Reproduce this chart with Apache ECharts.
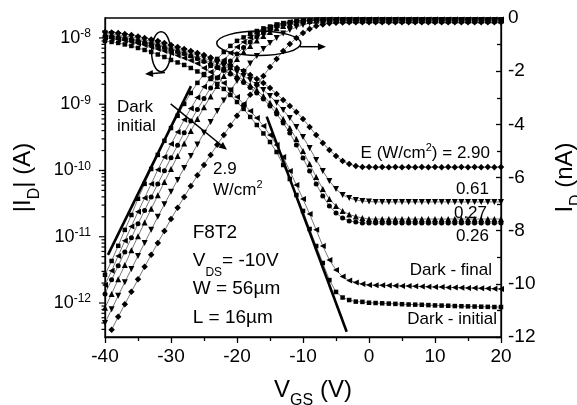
<!DOCTYPE html>
<html><head><meta charset="utf-8">
<script src="https://cdn.jsdelivr.net/npm/echarts@6/dist/echarts.min.js"></script>
<style>html,body{margin:0;padding:0;background:#fff}#c{width:577px;height:405px}</style>
</head><body><div id="c"></div>
<script>
// ---------- data ----------
const vgs = [-40,-39,-38,-37,-36,-35,-34,-33,-32,-31,-30,-29,-28,-27,-26,-25,-24,-23,-22,-21,
  -20,-19,-18,-17,-16,-15,-14,-13,-12,-11,-10,-9,-8,-7,-6,-5,-4,-3,-2,-1,
  0,1,2,3,4,5,6,7,8,9,10,11,12,13,14,15,16,17,18,19,20];

// linear I_D (nA), right axis
const linDarkInitial = [-9.66,-9.14,-8.57,-7.97,-7.41,-6.80,-6.24,-5.68,-5.15,-4.62,
  -4.14,-3.68,-3.23,-2.82,-2.44,-2.11,-1.80,-1.54,-1.28,-1.05,
  -0.86,-0.73,-0.60,-0.49,-0.39,-0.32,-0.24,-0.19,-0.15,-0.11,
  -0.09,-0.075,-0.065,-0.06,-0.055,-0.05,-0.05,-0.05,-0.05,-0.05,
  -0.05,-0.05,-0.05,-0.05,-0.05,-0.05,-0.05,-0.05,-0.05,-0.05,
  -0.05,-0.05,-0.05,-0.05,-0.05,-0.05,-0.05,-0.05,-0.05,-0.05,-0.05];
const linDarkFinal = [-10.04,-9.51,-8.95,-8.38,-7.84,-7.29,-6.77,-6.24,-5.71,-5.23,
  -4.74,-4.29,-3.83,-3.40,-2.99,-2.59,-2.22,-1.88,-1.58,-1.32,
  -1.09,-0.90,-0.73,-0.58,-0.45,-0.36,-0.26,-0.21,-0.15,-0.11,
  -0.09,-0.08,-0.07,-0.065,-0.06,-0.06,-0.06,-0.06,-0.06,-0.06,
  -0.06,-0.06,-0.06,-0.06,-0.06,-0.06,-0.06,-0.06,-0.06,-0.06,
  -0.06,-0.06,-0.06,-0.06,-0.06,-0.06,-0.06,-0.06,-0.06,-0.06,-0.06];
const linE026 = [-10.38,-9.85,-9.32,-8.80,-8.27,-7.74,-7.24,-6.73,-6.24,-5.75,
  -5.26,-4.79,-4.32,-3.87,-3.44,-3.03,-2.63,-2.26,-1.92,-1.62,
  -1.35,-1.11,-0.90,-0.71,-0.56,-0.43,-0.32,-0.24,-0.19,-0.13,
  -0.10,-0.09,-0.085,-0.08,-0.08,-0.08,-0.08,-0.08,-0.08,-0.08,
  -0.08,-0.08,-0.08,-0.08,-0.08,-0.08,-0.08,-0.08,-0.08,-0.08,
  -0.08,-0.08,-0.08,-0.08,-0.08,-0.08,-0.08,-0.08,-0.08,-0.08,-0.08];
const linE027 = [-10.90,-10.38,-9.83,-9.29,-8.74,-8.21,-7.69,-7.18,-6.67,-6.17,
  -5.68,-5.19,-4.72,-4.25,-3.80,-3.36,-2.95,-2.56,-2.18,-1.84,
  -1.54,-1.28,-1.05,-0.85,-0.68,-0.53,-0.39,-0.30,-0.23,-0.17,
  -0.13,-0.11,-0.10,-0.09,-0.09,-0.09,-0.09,-0.09,-0.09,-0.09,
  -0.09,-0.09,-0.09,-0.09,-0.09,-0.09,-0.09,-0.09,-0.09,-0.09,
  -0.09,-0.09,-0.09,-0.09,-0.09,-0.09,-0.09,-0.09,-0.09,-0.09,-0.09];
const linE061 = [-11.47,-10.96,-10.45,-9.94,-9.44,-8.95,-8.46,-7.97,-7.48,-7.01,
  -6.54,-6.09,-5.64,-5.19,-4.76,-4.32,-3.91,-3.50,-3.10,-2.73,
  -2.37,-2.03,-1.71,-1.43,-1.17,-0.94,-0.75,-0.58,-0.45,-0.34,
  -0.26,-0.19,-0.16,-0.14,-0.13,-0.12,-0.11,-0.11,-0.11,-0.11,
  -0.11,-0.11,-0.11,-0.11,-0.11,-0.11,-0.11,-0.11,-0.11,-0.11,
  -0.11,-0.11,-0.11,-0.11,-0.11,-0.11,-0.11,-0.11,-0.11,-0.11,-0.11];
const linE290 = [null,-11.73,-11.24,-10.77,-10.30,-9.83,-9.36,-8.91,-8.46,-8.01,
  -7.56,-7.14,-6.73,-6.32,-5.92,-5.53,-5.15,-4.77,-4.40,-4.04,
  -3.68,-3.29,-2.89,-2.52,-2.18,-1.84,-1.54,-1.24,-0.98,-0.75,
  -0.56,-0.41,-0.30,-0.24,-0.20,-0.18,-0.17,-0.16,-0.16,-0.16,
  -0.16,-0.16,-0.16,-0.16,-0.16,-0.16,-0.16,-0.16,-0.16,-0.16,
  -0.16,-0.16,-0.16,-0.16,-0.16,-0.16,-0.16,-0.16,-0.16,-0.16,-0.16];

// |I_D| (A), left log axis
const logDarkInitial = [9.01e-9,8.70e-9,8.41e-9,7.98e-9,7.57e-9,7.06e-9,6.59e-9,6.15e-9,5.63e-9,5.16e-9,
  4.65e-9,4.27e-9,3.91e-9,3.52e-9,3.12e-9,2.76e-9,2.40e-9,2.02e-9,1.70e-9,1.38e-9,
  1.08e-9,8.49e-10,6.43e-10,4.86e-10,3.62e-10,2.69e-10,1.90e-10,1.21e-10,7.44e-11,4.27e-11,
  2.45e-11,1.31e-11,7.25e-12,4.02e-12,2.22e-12,1.47e-12,1.21e-12,1.11e-12,1.05e-12,1.04e-12,
  1.01e-12,1.00e-12,9.9e-13,9.8e-13,9.7e-13,9.6e-13,9.5e-13,9.45e-13,9.4e-13,9.3e-13,
  9.2e-13,9.15e-13,9.1e-13,9.0e-13,8.95e-13,8.9e-13,8.85e-13,8.8e-13,8.75e-13,8.7e-13,8.7e-13];
const logDarkFinal = [1.02e-8,9.83e-9,9.49e-9,9.17e-9,8.70e-9,8.26e-9,7.84e-9,7.31e-9,6.82e-9,6.36e-9,
  5.94e-9,5.44e-9,4.99e-9,4.57e-9,4.12e-9,3.52e-9,3.07e-9,2.58e-9,2.09e-9,1.64e-9,
  1.29e-9,1.01e-9,7.92e-10,6.21e-10,4.70e-10,3.43e-10,2.43e-10,1.60e-10,9.83e-11,6.04e-11,
  3.71e-11,2.20e-11,1.27e-11,7.25e-12,4.46e-12,3.15e-12,2.51e-12,2.19e-12,2.04e-12,1.94e-12,
  1.87e-12,1.86e-12,1.85e-12,1.84e-12,1.82e-12,1.81e-12,1.80e-12,1.79e-12,1.77e-12,1.76e-12,
  1.75e-12,1.74e-12,1.72e-12,1.71e-12,1.70e-12,1.69e-12,1.68e-12,1.67e-12,1.66e-12,1.64e-12,1.63e-12];
const logE026 = [1.07e-8,1.05e-8,1.02e-8,9.83e-9,9.49e-9,9.01e-9,8.55e-9,8.12e-9,7.70e-9,7.19e-9,
  6.70e-9,6.25e-9,5.84e-9,5.35e-9,4.90e-9,4.41e-9,3.98e-9,3.58e-9,3.23e-9,2.86e-9,
  2.49e-9,2.13e-9,1.79e-9,1.48e-9,1.20e-9,9.43e-10,7.14e-10,5.21e-10,3.68e-10,2.43e-10,
  1.54e-10,9.83e-11,6.25e-11,4.12e-11,2.91e-11,2.28e-11,1.92e-11,1.73e-11,1.67e-11,1.61e-11,
  1.61e-11,1.61e-11,1.61e-11,1.61e-11,1.61e-11,1.61e-11,1.61e-11,1.61e-11,1.61e-11,1.61e-11,
  1.61e-11,1.61e-11,1.61e-11,1.61e-11,1.61e-11,1.61e-11,1.61e-11,1.61e-11,1.61e-11,1.61e-11,1.61e-11];
const logE027 = [1.11e-8,1.09e-8,1.05e-8,1.02e-8,9.83e-9,9.33e-9,8.85e-9,8.41e-9,7.98e-9,7.44e-9,
  6.94e-9,6.47e-9,6.04e-9,5.54e-9,5.07e-9,4.65e-9,4.27e-9,3.84e-9,3.46e-9,3.07e-9,
  2.67e-9,2.32e-9,1.95e-9,1.64e-9,1.33e-9,1.05e-9,8.20e-10,6.00e-10,4.38e-10,2.99e-10,
  1.97e-10,1.25e-10,7.98e-11,5.26e-11,3.71e-11,2.91e-11,2.45e-11,2.17e-11,2.02e-11,1.92e-11,
  1.85e-11,1.85e-11,1.85e-11,1.85e-11,1.85e-11,1.85e-11,1.85e-11,1.85e-11,1.85e-11,1.85e-11,
  1.85e-11,1.85e-11,1.85e-11,1.85e-11,1.85e-11,1.85e-11,1.85e-11,1.85e-11,1.85e-11,1.85e-11,1.85e-11];
const logE061 = [1.17e-8,1.15e-8,1.11e-8,1.07e-8,1.035e-8,9.83e-9,9.33e-9,8.85e-9,8.41e-9,7.84e-9,
  7.31e-9,6.82e-9,6.36e-9,5.94e-9,5.44e-9,4.99e-9,4.57e-9,4.19e-9,3.78e-9,3.40e-9,
  3.07e-9,2.67e-9,2.32e-9,1.95e-9,1.64e-9,1.33e-9,1.05e-9,8.20e-10,6.21e-10,4.53e-10,
  3.20e-10,2.19e-10,1.44e-10,9.83e-11,6.94e-11,5.26e-11,4.27e-11,3.85e-11,3.59e-11,3.46e-11,
  3.40e-11,3.35e-11,3.35e-11,3.35e-11,3.35e-11,3.35e-11,3.35e-11,3.35e-11,3.35e-11,3.35e-11,
  3.35e-11,3.35e-11,3.35e-11,3.35e-11,3.35e-11,3.35e-11,3.35e-11,3.35e-11,3.35e-11,3.35e-11,3.35e-11];
const logE290 = [1.23e-8,1.21e-8,1.19e-8,1.15e-8,1.11e-8,1.05e-8,1.00e-8,9.50e-9,9.01e-9,8.41e-9,
  7.84e-9,7.31e-9,6.82e-9,6.36e-9,5.94e-9,5.54e-9,5.07e-9,4.65e-9,4.27e-9,3.91e-9,
  3.52e-9,3.17e-9,2.76e-9,2.40e-9,2.09e-9,1.76e-9,1.43e-9,1.16e-9,9.43e-10,7.65e-10,
  6.00e-10,4.53e-10,3.43e-10,2.60e-10,2.04e-10,1.66e-10,1.39e-10,1.25e-10,1.17e-10,1.13e-10,
  1.13e-10,1.12e-10,1.13e-10,1.12e-10,1.13e-10,1.12e-10,1.13e-10,1.12e-10,1.13e-10,1.12e-10,
  1.13e-10,1.12e-10,1.13e-10,1.12e-10,1.13e-10,1.12e-10,1.13e-10,1.12e-10,1.13e-10,1.12e-10,1.13e-10];

// fit lines
const fitLinV = [-39.55, -26.97];
const fitLinI = [-8.91, -2.56];
const fitLogV = [-15.5, -3.38];
const fitLogI = [6.49e-10, 3.69e-13];

// tick labels / axis ranges
const xTicks = [-40, -30, -20, -10, 0, 10, 20];
const logMajorTicks = [1e-12, 1e-11, 1e-10, 1e-9, 1e-8];
const logMinorTicks = [4e-13,5e-13,6e-13,7e-13,8e-13,9e-13,
  2e-12,3e-12,4e-12,5e-12,6e-12,7e-12,8e-12,9e-12,
  2e-11,3e-11,4e-11,5e-11,6e-11,7e-11,8e-11,9e-11,
  2e-10,3e-10,4e-10,5e-10,6e-10,7e-10,8e-10,9e-10,
  2e-9,3e-9,4e-9,5e-9,6e-9,7e-9,8e-9,9e-9];
const curveNames = ['Dark - initial', 'Dark - final', '0.26', '0.27', '0.61', '2.90'];

// ---------- chart ----------
const FONT = '"Liberation Sans", Arial, Helvetica, sans-serif';
const chart = echarts.init(document.getElementById('c'), null, {renderer: 'canvas'});
const pairs = arr => vgs.map((v, i) => [v, arr[i]]).filter(p => p[1] !== null);

const styles = [
  {sym: 'rect', size: 4.5, rot: 0},
  {sym: 'triangle', size: 6, rot: 90},
  {sym: 'circle', size: 5, rot: 0},
  {sym: 'triangle', size: 6, rot: 0},
  {sym: 'triangle', size: 6, rot: 180},
  {sym: 'diamond', size: 6.5, rot: 0}
];
const linSets = [linDarkInitial, linDarkFinal, linE026, linE027, linE061, linE290];
const logSets = [logDarkInitial, logDarkFinal, logE026, logE027, logE061, logE290];

const series = [];
logSets.forEach((arr, k) => {
  series.push({
    name: curveNames[k] + ' log', type: 'line', xAxisIndex: 0, yAxisIndex: 0,
    data: pairs(arr), symbol: styles[k].sym, symbolSize: styles[k].size, symbolRotate: styles[k].rot,
    showSymbol: true, itemStyle: {color: '#000'}, lineStyle: {color: '#555', width: 0.8},
    emphasis: {disabled: true}, silent: true
  });
});
linSets.forEach((arr, k) => {
  series.push({
    name: curveNames[k] + ' lin', type: 'line', xAxisIndex: 0, yAxisIndex: 1,
    data: pairs(arr), symbol: styles[k].sym, symbolSize: styles[k].size, symbolRotate: styles[k].rot,
    showSymbol: true, itemStyle: {color: '#000'}, lineStyle: {color: '#555', width: 0.8},
    emphasis: {disabled: true}, silent: true
  });
});
const LIN_REF = series.length - 1;
series.push({
  type: 'line', xAxisIndex: 0, yAxisIndex: 1, data: fitLinV.map((v, i) => [v, fitLinI[i]]),
  symbol: 'none', lineStyle: {color: '#000', width: 2.6}, silent: true, z: 5
});
series.push({
  type: 'line', xAxisIndex: 0, yAxisIndex: 0, data: fitLogV.map((v, i) => [v, fitLogI[i]]),
  symbol: 'none', lineStyle: {color: '#000', width: 2.6}, silent: true, z: 5
});
series.push({
  type: 'custom', xAxisIndex: 0, yAxisIndex: 0, silent: true, clip: false, z: 6,
  data: logMajorTicks.map(v => [xTicks[0], v, 6]).concat(logMinorTicks.map(v => [xTicks[0], v, 3.5])),
  encode: {x: 0, y: 1},
  renderItem: (params, api) => {
    const p = api.coord([api.value(0), api.value(1)]);
    const len = api.value(2);
    return {type: 'line', shape: {x1: p[0] - len, y1: p[1], x2: p[0], y2: p[1]},
      style: {stroke: '#000', lineWidth: 1.2}};
  }
});

const axisLineStyle = {color: '#000', width: 1.3};
const option = {
  animation: false,
  backgroundColor: '#fff',
  textStyle: {fontFamily: FONT},
  grid: {left: 105, right: 76, top: 18, bottom: 68, containLabel: false, outerBoundsMode: 'none',
    show: true, borderColor: '#000', borderWidth: 1.3, backgroundColor: 'transparent'},
  xAxis: {
    type: 'value', min: xTicks[0], max: xTicks[xTicks.length - 1], interval: 10,
    axisLine: {show: true, onZero: false, lineStyle: axisLineStyle},
    axisTick: {show: true, inside: false, length: 6, lineStyle: axisLineStyle},
    minorTick: {show: true, splitNumber: 2, length: 4, lineStyle: axisLineStyle},
    splitLine: {show: false}, minorSplitLine: {show: false},
    axisLabel: {color: '#000', fontSize: 19, margin: 10, fontFamily: FONT},
    name: 'V{sub|GS} (V)', nameLocation: 'middle', nameGap: 30,
    nameTextStyle: {color: '#000', fontSize: 24, fontFamily: FONT, lineHeight: 28, padding: [0, 0, 0, 20],
      rich: {sub: {fontSize: 16, fontFamily: FONT, color: '#000', lineHeight: 38, verticalAlign: 'bottom'}}}
  },
  yAxis: [
    {
      type: 'log', logBase: 10, min: 3.07e-13, max: 2.0e-8, position: 'left',
      axisLine: {show: true, onZero: false, lineStyle: axisLineStyle},
      axisTick: {show: false}, minorTick: {show: false},
      splitLine: {show: false}, minorSplitLine: {show: false},
      axisLabel: {
        color: '#000', fontSize: 18, fontFamily: FONT, margin: 14, lineHeight: 20,
        showMinLabel: false, showMaxLabel: false,
        formatter: v => {
          const e = Math.log10(v); const r = Math.round(e);
          if (Math.abs(e - r) > 0.02) return '';
          return '10{sup|' + r + '}';
        },
        rich: {sup: {fontSize: 12, fontFamily: FONT, color: '#000', lineHeight: 12, verticalAlign: 'top'}}
      },
      name: '|I{sub|D}| (A)', nameLocation: 'middle', nameGap: 57,
      nameTextStyle: {color: '#000', fontSize: 24, fontFamily: FONT, lineHeight: 28,
        rich: {sub: {fontSize: 16, fontFamily: FONT, color: '#000', lineHeight: 38, verticalAlign: 'bottom'}}}
    },
    {
      type: 'value', min: -12, max: 0, interval: 2, position: 'right',
      axisLine: {show: true, onZero: false, lineStyle: axisLineStyle},
      axisTick: {show: true, inside: true, length: 5, lineStyle: axisLineStyle},
      minorTick: {show: true, splitNumber: 2, length: 4, lineStyle: axisLineStyle},
      splitLine: {show: false}, minorSplitLine: {show: false},
      axisLabel: {color: '#000', fontSize: 19, fontFamily: FONT, margin: 7},
      name: 'I{sub|D} (nA)', nameLocation: 'middle', nameGap: 38,
      nameTextStyle: {color: '#000', fontSize: 24, fontFamily: FONT, lineHeight: 28,
        rich: {sub: {fontSize: 16, fontFamily: FONT, color: '#000', lineHeight: 38, verticalAlign: 'bottom'}}}
    }
  ],
  series: series
};
chart.setOption(option);

// ---------- annotations (anchored in data coords of the right axis) ----------
const P = pt => chart.convertToPixel({seriesIndex: LIN_REF}, pt);
const ellipses = [
  {c: [-31.5, -1.27], edge: [-30.06, -0.52]},
  {c: [-16.70, -0.95], edge: [-10.33, -0.49]}
];
const arrows = [
  {from: [-30.91, -2.05], to: [-33.94, -2.11]},
  {from: [-10.45, -1.08], to: [-6.52, -1.08]},
  {from: [-30.05, -3.23], to: [-21.52, -4.96]}
];
const texts = [
  {at: [-38.18, -3.37], t: 'Dark', align: 'left', size: 17},
  {at: [-38.18, -4.08], t: 'initial', align: 'left', size: 17},
  {at: [-23.64, -5.68], t: '2.9', align: 'left', size: 17},
  {at: [-23.64, -6.50], t: 'W/cm{sup|2}', align: 'left', size: 17},
  {at: [-26.71, -8.08], t: 'F8T2', align: 'left', size: 19},
  {at: [-26.71, -9.15], t: 'V{sub|DS}= -10V', align: 'left', size: 19},
  {at: [-26.71, -10.19], t: 'W = 56\u00b5m', align: 'left', size: 19},
  {at: [-26.71, -11.28], t: 'L = 16\u00b5m', align: 'left', size: 19},
  {at: [18.33, -5.08], t: 'E (W/cm{sup|2}) = 2.90', align: 'right', size: 17},
  {at: [18.18, -6.45], t: '0.61', align: 'right', size: 17},
  {at: [17.88, -7.35], t: '0.27', align: 'right', size: 17},
  {at: [18.18, -8.21], t: '0.26', align: 'right', size: 17},
  {at: [18.64, -9.49], t: 'Dark - final', align: 'right', size: 17},
  {at: [19.39, -11.35], t: 'Dark - initial', align: 'right', size: 17}
];
const g = [];
ellipses.forEach(e => {
  const c = P(e.c), d = P(e.edge);
  g.push({type: 'ellipse', shape: {cx: c[0], cy: c[1], rx: Math.abs(d[0] - c[0]), ry: Math.abs(d[1] - c[1])},
    style: {fill: 'none', stroke: '#000', lineWidth: 1.5}, z: 100});
});
arrows.forEach(a => {
  const s = P(a.from), e = P(a.to);
  const dx = e[0] - s[0], dy = e[1] - s[1], L = Math.hypot(dx, dy);
  const ux = dx / L, uy = dy / L, hl = 8, hw = 3.5;
  const bx = e[0] - ux * hl, by = e[1] - uy * hl;
  g.push({type: 'line', shape: {x1: s[0], y1: s[1], x2: bx, y2: by}, style: {stroke: '#000', lineWidth: 1.5}, z: 100});
  g.push({type: 'polygon', shape: {points: [[e[0], e[1]], [bx - uy * hw, by + ux * hw], [bx + uy * hw, by - ux * hw]]},
    style: {fill: '#000'}, z: 100});
});
texts.forEach(o => {
  const p = P(o.at);
  g.push({type: 'text', x: p[0], y: p[1], z: 100, style: {
    text: o.t, fontFamily: FONT, fontSize: o.size, fill: '#000', align: o.align, verticalAlign: 'middle',
    lineHeight: o.size + 5,
    rich: {
      sup: {fontSize: 11, fontFamily: FONT, fill: '#000', lineHeight: 11, verticalAlign: 'top'},
      sub: {fontSize: 12, fontFamily: FONT, fill: '#000', lineHeight: o.size + 15, verticalAlign: 'bottom'}
    }
  }});
});
chart.setOption({graphic: g});
</script>
</body></html>
